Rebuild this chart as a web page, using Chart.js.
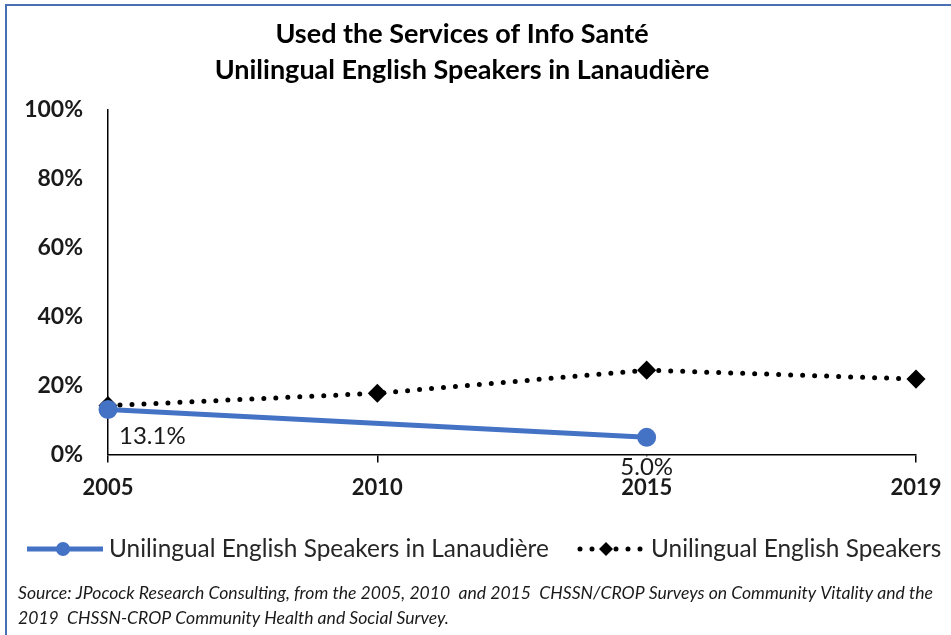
<!DOCTYPE html>
<html>
<head>
<meta charset="utf-8">
<script src="https://cdn.jsdelivr.net/npm/chart.js@4/dist/chart.umd.min.js"></script>
<style>
  body { margin: 0; background: #fff; }
  canvas { display: block; }
</style>
</head>
<body>
<canvas id="chart" width="951" height="635"></canvas>
<script>
// Données
const years = ['2005', '2010', '2015', '2019'];
const lanaudiere = [13.1, null, 5.0, null];
const englishSpeakers = [14.2, 17.8, 24.5, 21.9];
const yTicks = [0, 20, 40, 60, 80, 100];

const FONT = "Lato, sans-serif";
const BLUE = '#4472C4';

// fond blanc + cadre bleu
const frame = {
  id: 'frame',
  beforeDraw(chart) {
    const c = chart.ctx;
    c.save();
    c.fillStyle = '#fff';
    c.fillRect(0, 0, chart.width, chart.height);
    c.strokeStyle = '#4a6fb5';
    c.lineWidth = 2;
    c.strokeRect(6, 5, chart.width + 10, chart.height + 10);
    c.restore();
  }
};

// étiquettes de données de la série bleue
const valueLabels = {
  id: 'valueLabels',
  afterDatasetsDraw(chart) {
    const c = chart.ctx;
    const meta = chart.getDatasetMeta(0);
    c.save();
    c.font = '24px ' + FONT;
    c.fillStyle = '#1a1a1a';
    c.textBaseline = 'middle';
    meta.data.forEach((pt, i) => {
      const v = lanaudiere[i];
      if (v === null) return;
      const txt = v.toFixed(1) + '%';
      if (i === 0) {
        c.textAlign = 'left';
        c.fillText(txt, pt.x + 11, pt.y + 27);
      } else {
        c.textAlign = 'center';
        const w = c.measureText(txt).width;
        c.fillStyle = '#fff';
        c.fillRect(pt.x - w / 2 - 3, pt.y + 19, w + 6, 22);
        c.fillStyle = '#1a1a1a';
        c.fillText(txt, pt.x, pt.y + 30);
      }
    });
    c.restore();
  }
};

// légende + source en bas
const bottomLegend = {
  id: 'bottomLegend',
  afterDraw(chart) {
    const c = chart.ctx;
    const ds = chart.data.datasets;
    const y = 549;
    c.save();
    c.font = '24.4px ' + FONT;
    c.fillStyle = '#262626';
    c.textBaseline = 'middle';
    c.textAlign = 'left';

    // série 1
    c.strokeStyle = BLUE;
    c.lineWidth = 5;
    c.beginPath(); c.moveTo(27, y); c.lineTo(103, y); c.stroke();
    c.fillStyle = BLUE;
    c.beginPath(); c.arc(63, y, 7, 0, Math.PI * 2); c.fill();
    c.fillStyle = '#262626';
    c.fillText(ds[0].label, 109, y);

    // série 2
    c.strokeStyle = '#000';
    c.lineWidth = 5;
    c.lineCap = 'round';
    c.setLineDash([0, 12]);
    c.beginPath(); c.moveTo(580, y); c.lineTo(646, y); c.stroke();
    c.setLineDash([]);
    c.fillStyle = '#000';
    c.beginPath();
    c.moveTo(606, y - 7); c.lineTo(613, y); c.lineTo(606, y + 7); c.lineTo(599, y);
    c.closePath(); c.fill();
    c.fillStyle = '#262626';
    c.fillText(ds[1].label, 651, y);

    // source
    c.font = 'italic 17.6px ' + FONT;
    c.fillStyle = '#1a1a1a';
    c.fillText('Source: JPocock Research Consulting, from the 2005, 2010  and 2015  CHSSN/CROP Surveys on Community Vitality and the', 18, 593);
    c.fillText('2019  CHSSN-CROP Community Health and Social Survey.', 18, 618);
    c.restore();
  }
};

const ctx = document.getElementById('chart').getContext('2d');

new Chart(ctx, {
  type: 'line',
  data: {
    labels: years,
    datasets: [{
      label: 'Unilingual English Speakers in Lanaudière',
      data: lanaudiere,
      borderColor: BLUE,
      backgroundColor: BLUE,
      borderWidth: 5,
      pointRadius: 7,
      pointHoverRadius: 7,
      spanGaps: true,
      order: 1
    }, {
      label: 'Unilingual English Speakers',
      data: englishSpeakers,
      borderColor: '#000',
      backgroundColor: '#000',
      borderWidth: 5,
      borderDash: [0, 12],
      borderCapStyle: 'round',
      pointStyle: 'rectRot',
      pointRadius: 6,
      pointHoverRadius: 6,
      order: 2
    }]
  },
  options: {
    responsive: false,
    animation: false,
    layout: { padding: { left: 8, right: 35, top: 0, bottom: 122 } },
    plugins: {
      legend: { display: false },
      tooltip: { enabled: false },
      title: {
        display: true,
        text: ['Used the Services of Info Santé', 'Unilingual English Speakers in Lanaudière'],
        color: '#000',
        font: { family: FONT, size: 27, weight: 'bold', lineHeight: 1.33 },
        padding: { top: 16, bottom: 22 }
      }
    },
    scales: {
      x: {
        offset: false,
        afterFit(scale) { scale.paddingRight = 0; scale.paddingLeft = 0; },
        grid: { drawOnChartArea: false, drawTicks: true, tickLength: 8, color: '#000', lineWidth: 1.5 },
        border: { display: true, color: '#000', width: 1.5 },
        ticks: {
          color: '#1a1a1a',
          padding: 12,
          maxRotation: 0,
          font: { family: FONT, size: 22, weight: 'bold' }
        }
      },
      y: {
        min: 0,
        max: 100,
        afterFit(scale) { scale.width = 100; },
        afterBuildTicks(scale) { scale.ticks = yTicks.map(v => ({ value: v })); },
        grid: { drawOnChartArea: false, drawTicks: false },
        border: { display: true, color: '#000', width: 1.5 },
        ticks: {
          color: '#1a1a1a',
          padding: 25,
          font: { family: FONT, size: 23, weight: 'bold' },
          callback: v => v + '%'
        }
      }
    }
  },
  plugins: [frame, valueLabels, bottomLegend]
});
</script>
</body>
</html>
